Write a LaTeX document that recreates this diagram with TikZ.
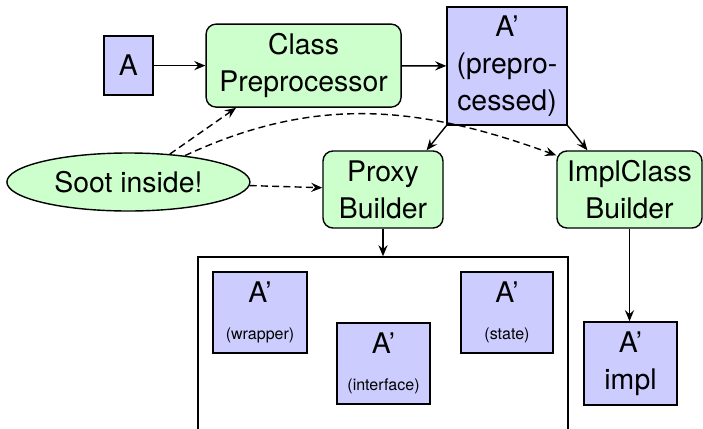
\documentclass[tikz,border=0pt]{standalone}
\usepackage{fontspec}
\setmainfont{TeX Gyre Heros}
\usetikzlibrary{arrows.meta, shapes.geometric}
\usepackage{xcolor}

\definecolor{clsblue}{RGB}{204,204,255}
\definecolor{toolgreen}{RGB}{204,255,204}
\newcommand{\bigtxt}{\fontsize{20.2}{26.2}\selectfont}
\newcommand{\smalltxt}{\fontsize{11.4}{13}\selectfont}

\begin{document}
\begin{tikzpicture}[
  classbox/.style={draw, fill=clsblue, line width=1pt, align=center, inner sep=0pt, font=\bigtxt},
  tool/.style={draw, fill=toolgreen, rounded corners=0.25cm, line width=1pt, align=center, inner sep=0pt, font=\bigtxt},
  oval/.style={draw, fill=toolgreen, ellipse, line width=1pt, inner sep=0pt, font=\bigtxt},
  flow/.style={-{Stealth[length=2.8mm, width=2.3mm, inset=1mm]}, line width=1pt},
  hint/.style={flow, dash pattern=on 5pt off 3pt}
]
\useasboundingbox (0,0) rectangle (17.575,-10.7);

% Input class and preprocessing
\node[classbox, minimum width=1.225cm, minimum height=1.475cm] (a) at (3.21,-1.64) {A};
\node[tool, minimum width=4.875cm, minimum height=2.075cm] (cp) at (7.59,-1.64) {Class\\Preprocessor};
\node[classbox, minimum width=3cm, minimum height=2.95cm] (pre) at (12.675,-1.65) {A’\\(prepro-\\cessed)};

% Builders
\node[oval, minimum width=6.075cm, minimum height=1.45cm] (soot) at (3.21,-4.55) {Soot inside!};
\node[tool, minimum width=3cm, minimum height=1.925cm] (proxy) at (9.575,-4.7375) {Proxy\\Builder};
\node[tool, minimum width=3.625cm, minimum height=1.925cm] (implb) at (15.7375,-4.7375) {ImplClass\\Builder};

% Generated classes
\node[draw, line width=1pt, minimum width=9.25cm, minimum height=4.575cm] (gen) at (9.575,-8.7125) {};
\node[classbox, minimum width=2.35cm, minimum height=2.025cm] (wrap) at (6.5,-7.8125) {A’\\{\smalltxt (wrapper)}};
\node[classbox, minimum width=2.325cm, minimum height=2.025cm] (iface) at (9.5875,-9.0875) {A’\\{\smalltxt (interface)}};
\node[classbox, minimum width=2.3cm, minimum height=2.025cm] (state) at (12.675,-7.8125) {A’\\{\smalltxt (state)}};
\node[classbox, minimum width=2.325cm, minimum height=2.075cm] (impl) at (15.7625,-9.0875) {A’\\impl};

% Connectors
\draw[flow] (a) -- (cp);
\draw[flow] (cp) -- (pre);
\draw[flow] (pre.south west) -- (proxy.42);
\draw[flow] (pre.south east) -- (implb.137);
\draw[flow] (proxy.south) -- (gen.north);
\draw[flow] (implb.south) -- (implb.south |- impl.north);
\draw[hint] (soot.34) -- (cp.212);
\draw[hint] (soot.25) to[out=25, in=160] (implb.155);
\draw[hint] (soot) -- (proxy);
\end{tikzpicture}
\end{document}
